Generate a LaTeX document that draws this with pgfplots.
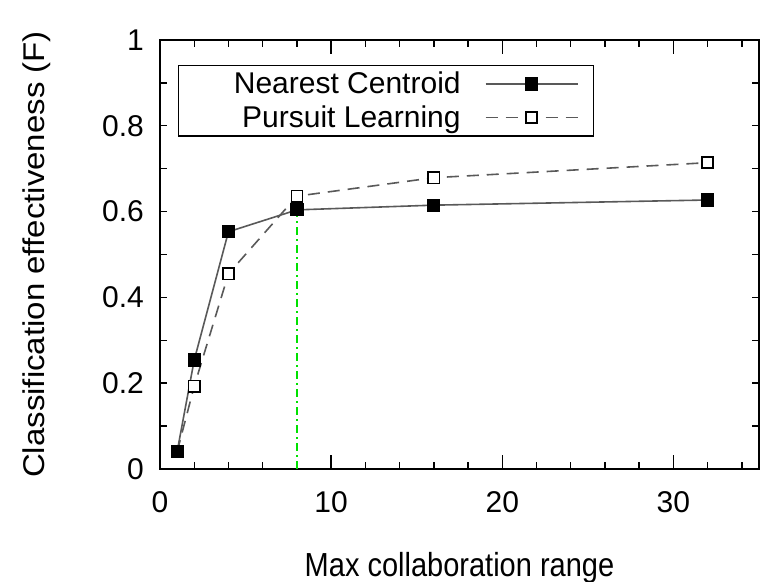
\documentclass[border=0pt]{standalone}
\usepackage{pgfplots}
\pgfplotsset{compat=1.18}
\usepackage{fontspec}
\setmainfont{Liberation Sans}
\definecolor{vgreen}{RGB}{0,225,0}
\begin{document}
\begin{tikzpicture}
\useasboundingbox (-80pt,-56.5pt) rectangle (304pt,234.5pt);
\begin{axis}[
  at={(0pt,0pt)}, anchor=south west,
  scale only axis, width=299.5pt, height=214.5pt,
  xmin=0, xmax=35, ymin=0, ymax=1,
  xtick={0,2,4,6,8,10,12,14,16,18,20,22,24,26,28,30,32,34},
  xticklabels={0,{},{},{},{},10,{},{},{},{},20,{},{},{},{},30,{},{}},
  extra x ticks={0,10,20,30}, extra x tick labels={},
  extra x tick style={major tick length=7pt},
  ytick={0,0.1,0.2,0.3,0.4,0.5,0.6,0.7,0.8,0.9,1},
  yticklabels={0,{},0.2,{},0.4,{},0.6,{},0.8,{},1},
  tick align=inside, major tick length=3.5pt,
  tick style={black, line width=0.7pt},
  axis line style={line width=0.9pt},
  /pgf/number format/assume math mode=true,
  xticklabel style={font=\fontsize{15}{17}\selectfont, yshift=-7.5pt},
  yticklabel style={font=\fontsize{15}{17}\selectfont, xshift=-4.5pt},
  every axis x label/.style={at={(axis description cs:0.5,0)}, anchor=base, yshift=-54pt, font=\fontsize{14.5}{17}\selectfont, yscale=1.15},
  every axis y label/.style={at={(axis description cs:0,0.5)}, xshift=-61.5pt, rotate=90, anchor=center, font=\fontsize{15}{17}\selectfont, xscale=1.1},
  xlabel={Max collaboration range},
  ylabel={Classification effectiveness (F)},
  legend plot pos=right,
  reverse legend,
  legend style={at={(axis description cs:0.03,0.942)}, anchor=north west, draw=black, line width=0.7pt,
    font=\fontsize{15}{17}\selectfont, inner xsep=0pt, inner ysep=1.5pt, row sep=1.5pt, column sep=0pt,
    nodes={inner sep=1.5pt}},
  legend image code/.code={
    \path[draw=none, fill=none] (0pt,0pt) -- (65pt,0pt);
    \draw[mark repeat=2, mark phase=2, #1] plot coordinates {(11pt,0pt) (34pt,0pt) (57pt,0pt)};
  },
]
\addplot[forget plot, color=vgreen, dash pattern=on 4pt off 2pt on 1pt off 2pt, line width=0.9pt] coordinates {(8,0) (8,0.604)};
\addplot[black!65, dash pattern=on 6pt off 4pt, line width=0.8pt, mark=square*, mark size=2.8pt, mark options={solid, draw=black, fill=white, line width=0.8pt}]
  coordinates {(1,0.04) (2,0.193) (4,0.455) (8,0.636) (16,0.679) (32,0.714)};
\addlegendentry{\makebox[139.5pt][r]{Pursuit Learning}}
\addplot[black!65, line width=0.8pt, mark=square*, mark size=2.9pt, mark options={solid, fill=black, draw=black}]
  coordinates {(1,0.040) (2,0.254) (4,0.553) (8,0.604) (16,0.615) (32,0.627)};
\addlegendentry{\makebox[139.5pt][r]{Nearest Centroid}}
\end{axis}
\end{tikzpicture}
\end{document}
